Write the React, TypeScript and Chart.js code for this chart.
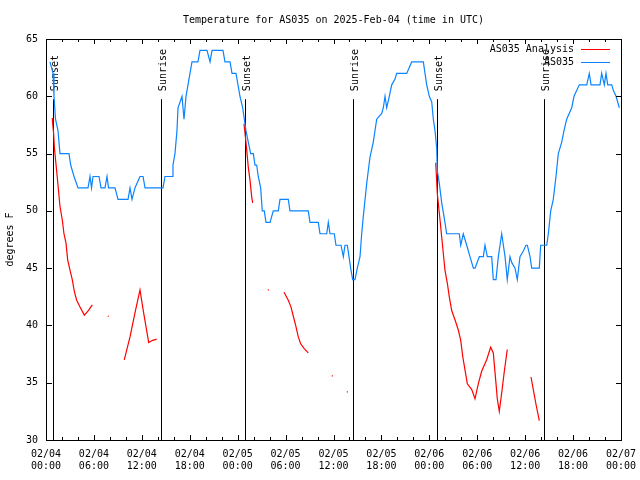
import React, { useEffect, useRef } from "react";
import { Chart, registerables } from "chart.js";

Chart.register(...registerables);

const TITLE = "Temperature for AS035 on 2025-Feb-04 (time in UTC)";
const Y_LABEL = "degrees F";
const FONT_FAMILY = "'DejaVu Sans Mono', 'Liberation Mono', monospace";
const FONT = "10px " + FONT_FAMILY;

// x axis: hours since 2025-02-04 00:00 UTC
const X_TICK_HOURS = [0, 6, 12, 18, 24, 30, 36, 42, 48, 54, 60, 66, 72];
const X_TICK_DATES = ["02/04", "02/04", "02/04", "02/04", "02/05", "02/05", "02/05", "02/05", "02/06", "02/06", "02/06", "02/06", "02/07"];
const X_TICK_TIMES = ["00:00", "06:00", "12:00", "18:00", "00:00", "06:00", "12:00", "18:00", "00:00", "06:00", "12:00", "18:00", "00:00"];
const X_MINOR_STEP = 2;
const Y_TICKS = [30, 35, 40, 45, 50, 55, 60, 65];

const SUN_HOURS = [0.91, 14.44, 24.96, 38.48, 49.0, 62.4];
const SUN_LABELS = ["Sunset", "Sunrise", "Sunset", "Sunrise", "Sunset", "Sunrise"];

const OBS_LABEL = "AS035";
const OBS_HOURS = [
  0.50, 0.88, 1.00, 1.19, 1.50, 1.75, 2.88, 3.09, 3.51, 4.01,
  5.26, 5.51, 5.70, 5.89, 6.64, 6.89, 7.39, 7.64, 7.83, 8.64,
  9.02, 10.27, 10.52, 10.77, 11.14, 11.77, 12.15, 12.40, 14.65, 14.90,
  15.78, 15.90, 16.15, 16.40, 16.53, 17.03, 17.28, 17.53, 17.78, 18.28,
  19.03, 19.28, 20.16, 20.54, 20.79, 22.16, 22.41, 23.04, 23.29, 23.79,
  24.04, 24.29, 24.63, 24.83, 25.04, 25.33, 25.63, 25.96, 26.17, 26.38,
  26.58, 26.88, 27.08, 27.33, 27.55, 28.05, 28.46, 29.09, 29.30, 30.34,
  30.55, 32.84, 33.06, 34.10, 34.31, 35.15, 35.35, 35.56, 36.10, 36.31,
  36.94, 37.23, 37.44, 37.73, 37.94, 38.15, 38.40, 38.69, 38.98, 39.32,
  39.53, 39.73, 40.16, 40.57, 40.98, 41.41, 42.04, 42.24, 42.45, 42.66,
  42.99, 43.29, 43.70, 43.91, 45.17, 45.79, 47.25, 47.46, 47.67, 48.00,
  48.30, 48.50, 48.71, 48.92, 49.00, 49.25, 49.55, 49.84, 50.17, 51.75,
  51.93, 52.25, 52.68, 53.09, 53.51, 53.72, 54.26, 54.76, 54.97, 55.26,
  55.81, 56.01, 56.35, 56.64, 57.06, 57.48, 57.76, 58.10, 58.31, 58.73,
  59.02, 59.35, 59.77, 60.10, 60.27, 60.61, 60.82, 61.77, 61.94, 62.70,
  62.90, 63.20, 63.52, 63.86, 64.15, 64.58, 64.86, 65.20, 65.83, 66.12,
  66.45, 66.78, 67.71, 68.03, 68.25, 69.37, 69.58, 69.91, 70.12, 70.34,
  70.84, 71.05, 71.38, 71.79,
];
const OBS_TEMPS = [
  63, 62, 60, 58, 57, 55, 55, 54, 53, 52,
  52, 53, 52, 53, 53, 52, 52, 53, 52, 52,
  51, 51, 52, 51, 52, 53, 53, 52, 52, 53,
  53, 54, 55, 57, 59, 60, 58, 60, 61, 63,
  63, 64, 64, 63, 64, 64, 63, 63, 62, 62,
  61, 60, 59, 58, 57, 56, 55, 55, 54, 54,
  53, 52, 50, 50, 49, 49, 50, 50, 51, 51,
  50, 50, 49, 49, 48, 48, 49, 48, 48, 47,
  47, 46, 47, 47, 46, 45, 44, 44, 45, 46,
  48, 49.5, 52.4, 54.7, 56, 58, 58.5, 59, 60, 59,
  60, 61, 61.5, 62, 62, 63, 63, 62, 61, 60,
  59.5, 58, 57, 55.5, 53.5, 52.4, 50.7, 49.5, 48, 48,
  47, 48, 47, 46, 45, 45, 46, 46, 47, 46,
  46, 44, 44, 46, 48, 46, 44, 46, 45.5, 45,
  44, 46, 46.5, 47, 47, 46, 45, 45, 47, 47,
  48, 50, 51, 53, 55, 56, 57, 58, 59, 60,
  60.5, 61, 61, 62, 61, 61, 62, 61, 62, 61,
  61, 60.5, 60, 59,
];

const ANALYSIS_LABEL = "AS035 Analysis";
const ANALYSIS_HOURS = [
  0.79, 0.85, 0.95, 1.05, 1.40, 1.75, 2.04, 2.25, 2.50, 2.72,
  3.01, 3.29, 3.54, 3.84, 4.26, 4.80, 5.30, 5.80, 6.80, 7.80,
  8.80, 9.80, 10.52, 11.14, 11.77, 12.18, 12.52, 12.86, 13.36, 13.86,
  19.00, 24.79, 25.04, 25.33, 25.54, 25.76, 25.88, 26.80, 27.84, 28.80,
  29.80, 30.34, 30.68, 30.97, 31.30, 31.59, 31.89, 32.31, 32.84, 34.00,
  35.85, 36.80, 37.73, 43.00, 48.80, 49.00, 49.34, 49.55, 49.75, 49.96,
  50.25, 50.50, 50.80, 51.21, 51.63, 51.93, 52.18, 52.47, 52.76, 53.31,
  53.72, 54.13, 54.55, 55.18, 55.68, 56.01, 56.35, 56.51, 56.76, 57.06,
  57.39, 57.76, 59.00, 60.73, 61.02, 61.36, 61.77,
];
const ANALYSIS_TEMPS = [
  58.1, 57.5, 56.8, 55.5, 53.0, 50.4, 49.2, 48.0, 47.2, 45.7,
  44.8, 44.0, 43.0, 42.2, 41.6, 40.9, 41.3, 41.8, null, 40.8,
  null, 37.0, 39.0, 41.1, 43.1, 41.3, 39.9, 38.5, 38.7, 38.8,
  null, 57.6, 56.0, 53.8, 52.7, 51.2, 50.7, null, 43.1, null,
  42.9, 42.2, 41.6, 40.8, 39.9, 39.0, 38.4, 38.0, 37.6, null,
  35.6, null, 34.2, null, 54.2, 51.5, 49.2, 47.7, 46.3, 44.8,
  43.7, 42.5, 41.3, 40.5, 39.6, 38.7, 37.3, 36.1, 34.9, 34.4,
  33.6, 34.9, 36.0, 37.0, 38.1, 37.6, 34.9, 33.6, 32.5, 34.1,
  36.0, 37.9, null, 35.5, 34.4, 33.1, 31.7,
];

const RED = "#ff0000";
const BLUE = "#0a84ff";

const isolatedRadius = (c: any) => {
  const d = c.dataset.data;
  const i = c.dataIndex;
  if (!d[i] || d[i].y == null) return 0;
  const prevGap = i === 0 || d[i - 1].y == null;
  const nextGap = i === d.length - 1 || d[i + 1].y == null;
  return prevGap && nextGap ? 0.8 : 0;
};

const chromePlugin = {
  id: "gnuplotChrome",
  beforeDatasetsDraw(chart: any) {
    const { ctx, chartArea: a, scales } = chart;
    const xs = scales.x;
    const h = a.bottom - a.top;
    ctx.save();
    ctx.strokeStyle = "#000";
    ctx.fillStyle = "#000";
    ctx.lineWidth = 1;
    ctx.font = FONT;
    SUN_HOURS.forEach((hr, i) => {
      const px = Math.round(xs.getPixelForValue(hr)) + 0.5;
      const yTop = a.bottom - 0.85 * h;
      ctx.beginPath();
      ctx.moveTo(px, a.bottom);
      ctx.lineTo(px, yTop);
      ctx.stroke();
      const yText = a.bottom - 0.87 * h;
      ctx.save();
      ctx.translate(px + 1.5, yText);
      ctx.rotate(-Math.PI / 2);
      ctx.textAlign = "left";
      ctx.textBaseline = "middle";
      ctx.fillText(SUN_LABELS[i], 0, 0);
      ctx.restore();
    });
    ctx.restore();
  },
  afterDraw(chart: any) {
    const { ctx, chartArea: a, scales } = chart;
    const xs = scales.x;
    const ys = scales.y;
    ctx.save();
    ctx.strokeStyle = "#000";
    ctx.fillStyle = "#000";
    ctx.lineWidth = 1;
    // box
    ctx.strokeRect(a.left + 0.5, a.top + 0.5, a.right - a.left, a.bottom - a.top);
    // ticks (inward, mirrored)
    const MAJ = 5;
    const MIN = 3;
    ctx.beginPath();
    for (let hr = X_TICK_HOURS[0]; hr <= X_TICK_HOURS[X_TICK_HOURS.length - 1]; hr += X_MINOR_STEP) {
      const len = X_TICK_HOURS.includes(hr) ? MAJ : MIN;
      const px = Math.round(xs.getPixelForValue(hr)) + 0.5;
      ctx.moveTo(px, a.bottom);
      ctx.lineTo(px, a.bottom - len);
      ctx.moveTo(px, a.top);
      ctx.lineTo(px, a.top + len);
    }
    Y_TICKS.forEach((v) => {
      const py = Math.round(ys.getPixelForValue(v)) + 0.5;
      ctx.moveTo(a.left, py);
      ctx.lineTo(a.left + MAJ + 1, py);
      ctx.moveTo(a.right + 1, py);
      ctx.lineTo(a.right - MAJ, py);
    });
    ctx.stroke();

    ctx.font = FONT;
    // title
    ctx.textAlign = "center";
    ctx.textBaseline = "middle";
    ctx.fillText(TITLE, (a.left + a.right) / 2, 20);
    // y label
    ctx.save();
    ctx.translate(10.5, (a.top + a.bottom) / 2);
    ctx.rotate(-Math.PI / 2);
    ctx.fillText(Y_LABEL, 0, 0);
    ctx.restore();
    // legend
    const items = [
      { label: ANALYSIS_LABEL, color: RED },
      { label: OBS_LABEL, color: BLUE },
    ];
    items.forEach((it, i) => {
      const y = a.top + 10 + i * 13;
      ctx.textAlign = "right";
      ctx.fillStyle = "#000";
      ctx.fillText(it.label, a.right - 47, y);
      ctx.strokeStyle = it.color;
      ctx.beginPath();
      ctx.moveTo(a.right - 40, Math.round(y) + 0.5);
      ctx.lineTo(a.right - 11, Math.round(y) + 0.5);
      ctx.stroke();
    });
    ctx.restore();
  },
};

export default function App() {
  const ref = useRef<HTMLCanvasElement | null>(null);
  useEffect(() => {
    document.body.style.margin = "0";
    const canvas = ref.current;
    if (!canvas) return;
    const obsData = OBS_HOURS.map((x, i) => ({ x, y: OBS_TEMPS[i] }));
    const anaData = ANALYSIS_HOURS.map((x, i) => ({ x, y: ANALYSIS_TEMPS[i] }));
    const chart = new Chart(canvas, {
      type: "line",
      data: {
        datasets: [
          {
            label: OBS_LABEL,
            data: obsData,
            borderColor: BLUE,
            backgroundColor: BLUE,
            borderWidth: 1.2,
            pointRadius: 0,
            tension: 0,
            fill: false,
          },
          {
            label: ANALYSIS_LABEL,
            data: anaData as any,
            borderColor: RED,
            backgroundColor: RED,
            borderWidth: 1.2,
            pointRadius: isolatedRadius as any,
            pointStyle: "rect",
            pointBorderWidth: 0,
            tension: 0,
            spanGaps: false,
            fill: false,
          },
        ],
      },
      options: {
        responsive: false,
        animation: false,
        events: [],
        layout: { padding: { top: 39, right: 19, left: 0, bottom: 0 } },
        plugins: {
          legend: { display: false },
          title: { display: false },
          tooltip: { enabled: false },
        },
        scales: {
          x: {
            type: "linear",
            min: 0,
            max: 72,
            grid: { display: false, drawTicks: false },
            border: { display: false },
            afterBuildTicks: (s: any) => {
              s.ticks = X_TICK_HOURS.map((v) => ({ value: v }));
            },
            afterFit: (s: any) => {
              s.height = 40;
              s.paddingLeft = 0;
              s.paddingRight = 0;
            },
            ticks: {
              autoSkip: false,
              maxRotation: 0,
              minRotation: 0,
              padding: 8,
              color: "#000",
              font: { family: FONT_FAMILY, size: 10, lineHeight: 1.25 },
              callback: (v: any) => {
                const i = X_TICK_HOURS.indexOf(Number(v));
                return i >= 0 ? [X_TICK_DATES[i], X_TICK_TIMES[i]] : "";
              },
            },
          },
          y: {
            type: "linear",
            min: 30,
            max: 65,
            grid: { display: false, drawTicks: false },
            border: { display: false },
            afterBuildTicks: (s: any) => {
              s.ticks = Y_TICKS.map((v) => ({ value: v }));
            },
            afterFit: (s: any) => {
              s.width = 46;
              s.paddingTop = 0;
              s.paddingBottom = 0;
            },
            ticks: {
              padding: 8,
              color: "#000",
              font: { family: FONT_FAMILY, size: 10 },
            },
          },
        },
      },
      plugins: [chromePlugin],
    });
    return () => chart.destroy();
  }, []);
  return (
    <canvas
      ref={ref}
      width={640}
      height={480}
      style={{ display: "block", width: 640, height: 480 }}
    />
  );
}
